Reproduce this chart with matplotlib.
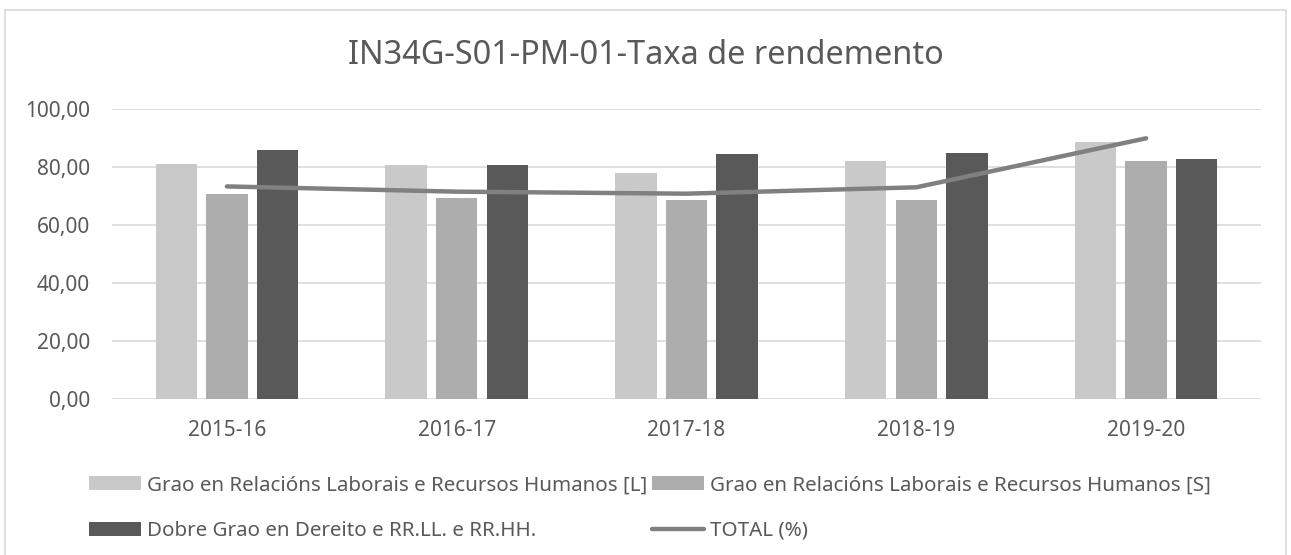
import matplotlib
matplotlib.use("Agg")
import matplotlib.pyplot as plt
import matplotlib.patches as patches
from matplotlib.lines import Line2D
import numpy as np

plt.rcParams['font.family'] = ['Noto Sans', 'DejaVu Sans']

# Data
years = ["2015-16", "2016-17", "2017-18", "2018-19", "2019-20"]
grao_l = [81.0, 80.8, 77.9, 82.0, 88.5]
grao_s = [70.8, 69.2, 68.5, 68.7, 81.9]
dobre_grao = [85.8, 80.8, 84.5, 84.7, 82.8]
total = [73.3, 71.5, 70.8, 73.0, 89.9]

labels = ["Grao en Relacións Laborais e Recursos Humanos [L]",
          "Grao en Relacións Laborais e Recursos Humanos [S]",
          "Dobre Grao en Dereito e RR.LL. e RR.HH.",
          "TOTAL (%)"]
colors = ["#c9c9c9", "#adadad", "#595959"]
line_color = "#808080"
text_color = "#595959"

W, H = 1291, 555
fig = plt.figure(figsize=(W / 100, H / 100), dpi=100)
ax = fig.add_axes([112 / W, 1 - 399 / H, (1261 - 112) / W, (399 - 109) / H])

x = np.arange(len(years))
offset = 0.22
width = 0.18
b1 = ax.bar(x - offset, grao_l, width, color=colors[0], zorder=2)
b2 = ax.bar(x, grao_s, width, color=colors[1], zorder=2)
b3 = ax.bar(x + offset, dobre_grao, width, color=colors[2], zorder=2)
ln, = ax.plot(x, total, color=line_color, lw=3.2, solid_capstyle='round', zorder=3)

ax.set_xlim(-0.5, len(years) - 0.5)
ax.set_ylim(0, 100)
ax.set_yticks(np.arange(0, 101, 20))
ax.set_yticklabels([f"{v:.2f}".replace(".", ",") for v in np.arange(0, 101, 20)])
ax.set_xticks(x)
ax.set_xticklabels(years)
ax.tick_params(axis='both', length=0, labelsize=15, labelcolor=text_color)
ax.tick_params(axis='y', pad=16)
ax.tick_params(axis='x', pad=15)
ax.grid(axis='y', color="#d9d9d9", lw=1.2, zorder=0)
ax.set_axisbelow(True)
for s in ax.spines.values():
    s.set_visible(False)

fig.text(0.5, 1 - 55 / H, "IN34G-S01-PM-01-Taxa de rendemento",
         ha='center', va='center', fontsize=23.4, color=text_color)

# Outer chart border
fig.add_artist(patches.Rectangle((5 / W, -0.05), (1286 - 5) / W, 1.05 - 10 / H,
                                 transform=fig.transFigure, fill=False,
                                 edgecolor="#d9d9d9", lw=1.2))

# legend is filled column by column, so order entries to read row by row
total_handle = Line2D([], [], color=line_color, lw=3.2, solid_capstyle='round')
handles = [b1, b3, b2, total_handle]
leg_labels = [labels[0], labels[2], labels[1], labels[3]]
leg = fig.legend(handles, leg_labels, ncol=2, loc='upper left',
                 bbox_to_anchor=(79 / W, 1 - 465 / H), frameon=False,
                 fontsize=14.8, labelcolor=text_color, handlelength=2.5,
                 handleheight=0.7, handletextpad=0.3, columnspacing=0.25,
                 labelspacing=1.25, borderpad=0)

fig.savefig("out.png", dpi=100)
